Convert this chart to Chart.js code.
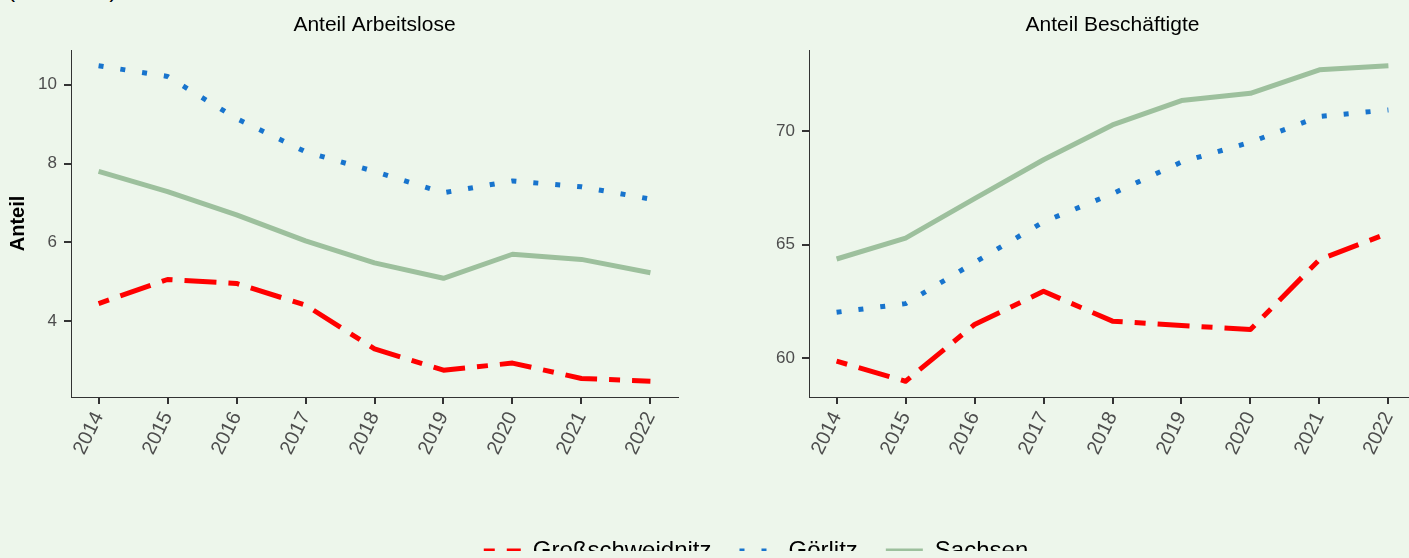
<!DOCTYPE html>
<html>
<head>
<meta charset="utf-8">
<script src="https://cdn.jsdelivr.net/npm/chart.js@4.4.1/dist/chart.umd.min.js"></script>
<style>
  html, body { margin: 0; padding: 0; width: 1409px; height: 558px; overflow: hidden; background: #EDF6EB; }
  canvas { position: absolute; }
  #notiz { position: absolute; left: 8px; top: -20px; font: 21px "Liberation Sans", Arial, sans-serif; line-height: 21px; color: #000; white-space: nowrap; }
</style>
</head>
<body>
<div id="notiz">(in Prozent)</div>
<canvas id="links" width="749" height="558" style="left:0;top:0"></canvas>
<canvas id="rechts" width="725" height="558" style="left:750px;top:0"></canvas>
<canvas id="legende" width="1409" height="80" style="left:0;top:511px"></canvas>
<script>
var jahre = [2014, 2015, 2016, 2017, 2018, 2019, 2020, 2021, 2022];
var serien = ["Großschweidnitz", "Görlitz", "Sachsen"];

var tickArbeitslose = [4, 6, 8, 10];
var tickBeschaeftigte = [60, 65, 70];

// Anteil Arbeitslose
var alGrossschweidnitz = [4.45, 5.06, 4.96, 4.41, 3.30, 2.76, 2.94, 2.55, 2.48];
var alGoerlitz = [10.48, 10.21, 9.14, 8.30, 7.80, 7.26, 7.56, 7.41, 7.10];
var alSachsen = [7.80, 7.29, 6.70, 6.04, 5.48, 5.09, 5.70, 5.57, 5.23];

// Anteil Beschäftigte
var beGrossschweidnitz = [59.88, 59.00, 61.49, 62.95, 61.64, 61.45, 61.27, 64.34, 65.51];
var beGoerlitz = [62.03, 62.41, 64.22, 66.00, 67.24, 68.63, 69.50, 70.63, 70.92];
var beSachsen = [64.37, 65.29, 67.02, 68.73, 70.26, 71.33, 71.65, 72.68, 72.86];

var schrift = "'Liberation Sans', Arial, sans-serif";
var farben = ["#FF0000", "#1874CD", "#9DC09D"];
var striche = [[11, 12, 32, 12], [5, 17], []];

function datensaetze(werte) {
    return serien.map(function (name, i) {
        return {
            label: name,
            data: jahre.map(function (j, k) { return { x: j, y: werte[i][k] }; }),
            borderColor: farben[i],
            backgroundColor: farben[i],
            borderDash: striche[i],
            borderWidth: 5,
            borderCapStyle: "butt",
            borderJoinStyle: "round",
            pointRadius: 0,
            tension: 0,
            fill: false
        };
    });
}

function panel(id, titel, werte, yTicks, yBreite, rechtsPad, achsenTitel) {
    var alle = [].concat.apply([], werte);
    var lo = Math.min.apply(null, alle), hi = Math.max.apply(null, alle);
    var rand = (hi - lo) * 0.05;
    var xRand = (jahre[jahre.length - 1] - jahre[0]) * 0.05;

    return new Chart(document.getElementById(id), {
        type: "line",
        data: { datasets: datensaetze(werte) },
        options: {
            responsive: false,
            animation: false,
            layout: { padding: { left: 0, right: rechtsPad, top: 0, bottom: 0 } },
            plugins: {
                legend: { display: false },
                tooltip: { enabled: false },
                title: {
                    display: true,
                    fullSize: false,
                    text: titel,
                    color: "#000",
                    font: { family: schrift, size: 21, weight: "normal", lineHeight: 1.2 },
                    padding: { top: 13, bottom: 11.8 }
                }
            },
            scales: {
                x: {
                    type: "linear",
                    min: jahre[0] - xRand,
                    max: jahre[jahre.length - 1] + xRand,
                    border: { display: true, color: "#333", width: 1 },
                    grid: { drawOnChartArea: false, tickLength: 7, color: "#333", lineWidth: 2 },
                    ticks: {
                        color: "#4D4D4D",
                        font: { family: schrift, size: 20 },
                        minRotation: 64,
                        maxRotation: 64,
                        padding: 4,
                        autoSkip: false,
                        callback: function (v) { return String(v); }
                    },
                    afterBuildTicks: function (a) { a.ticks = jahre.map(function (v) { return { value: v }; }); },
                    afterFit: function (a) { a.height = 161; }
                },
                y: {
                    type: "linear",
                    min: lo - rand,
                    max: hi + rand,
                    border: { display: true, color: "#333", width: 1 },
                    grid: { drawOnChartArea: false, tickLength: 7, color: "#333", lineWidth: 2 },
                    ticks: {
                        color: "#4D4D4D",
                        font: { family: schrift, size: 17 },
                        padding: 7
                    },
                    title: {
                        display: achsenTitel,
                        text: "Anteil",
                        color: "#000",
                        font: { family: schrift, size: 20, weight: "bold", lineHeight: 1.2 },
                        padding: { top: 6, bottom: 0 }
                    },
                    afterBuildTicks: function (a) { a.ticks = yTicks.map(function (v) { return { value: v }; }); },
                    afterFit: function (a) { a.width = yBreite; }
                }
            }
        }
    });
}

panel("links", "Anteil Arbeitslose", [alGrossschweidnitz, alGoerlitz, alSachsen], tickArbeitslose, 71, 71, true);
panel("rechts", "Anteil Beschäftigte", [beGrossschweidnitz, beGoerlitz, beSachsen], tickBeschaeftigte, 59, 59, false);

// gemeinsame Legende unten
new Chart(document.getElementById("legende"), {
    type: "line",
    data: {
        datasets: serien.map(function (name, i) {
            return { label: name, data: [], borderColor: farben[i], borderDash: striche[i], borderWidth: 5 };
        })
    },
    options: {
        responsive: false,
        animation: false,
        layout: { padding: { left: 103, right: 0, top: 0, bottom: 0 } },
        scales: { x: { display: false }, y: { display: false } },
        plugins: {
            tooltip: { enabled: false },
            legend: {
                display: true,
                position: "top",
                onClick: null,
                labels: {
                    usePointStyle: true,
                    pointStyleWidth: 37,
                    padding: 28,
                    color: "#000",
                    font: { family: schrift, size: 24 },
                    generateLabels: function (chart) {
                        return chart.data.datasets.map(function (ds, i) {
                            return {
                                text: ds.label,
                                fillStyle: ds.borderColor,
                                strokeStyle: ds.borderColor,
                                lineWidth: ds.borderWidth,
                                lineDash: ds.borderDash,
                                lineCap: "butt",
                                pointStyle: "line",
                                fontColor: "#000",
                                hidden: false,
                                datasetIndex: i
                            };
                        });
                    }
                }
            }
        }
    }
});
</script>
</body>
</html>
